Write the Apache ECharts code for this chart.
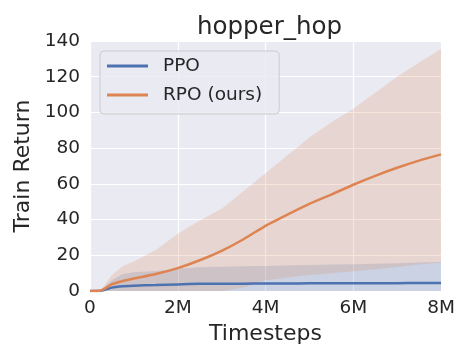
<!DOCTYPE html>
<html>
<head>
<meta charset="utf-8">
<script src="https://cdn.jsdelivr.net/npm/echarts@6/dist/echarts.min.js"></script>
<style>html,body{margin:0;padding:0;background:#fff}#c{width:470px;height:360px}</style>
</head>
<body>
<div id="c"></div>
<script>
// Timesteps in millions
const steps = [0, 0.25, 0.5, 0.75, 1, 1.5, 2, 2.5, 3, 3.5, 4, 4.5, 5, 5.5, 6, 6.5, 7, 7.5, 8];
const ppoMean  = [0, 0.2, 1.9, 2.6, 3.0, 3.3, 3.7, 4.0, 4.1, 4.1, 4.2, 4.2, 4.3, 4.3, 4.4, 4.4, 4.4, 4.5, 4.5];
const ppoUpper = [0, 0.5, 6.0, 9.5, 10.5, 11.2, 12.5, 13.3, 13.6, 13.8, 14.0, 14.3, 14.6, 14.8, 15.0, 15.3, 15.6, 16.0, 16.3];
const ppoLower = [0, 0, 0, 0, 0, 0, 0, 0, 0, 0, 0, 0, 0, 0, 0, 0, 0, 0, 0];
const rpoMean  = [0, 0.3, 3.8, 5.6, 7.0, 9.5, 12.8, 17.2, 22.5, 29, 36.5, 42.8, 48.8, 54, 59.5, 64.5, 69, 73, 76.5];
const rpoUpper = [0, 0.5, 9, 14, 16.5, 23, 32, 39.5, 46, 56, 66, 76, 86, 94.5, 102, 111, 120, 128, 135.5];
const rpoLower = [0, 0, 0, 0, 0, 0, 0, 0, 0, 2, 6, 7.5, 9, 10, 11, 12.2, 13.5, 14.8, 16];
const xTicks = [0, 2, 4, 6, 8];
const yTicks = [0, 20, 40, 60, 80, 100, 120, 140];
const seriesNames = ['PPO', 'RPO (ours)'];

const BLUE = '#4c72b0', ORANGE = '#dd8452', TXT = '#262626';
const FONT = 'DejaVu Sans';
const pair = (ys) => steps.map((x, i) => [x, ys[i]]);

function band(lower, upper, color) {
  return {
    type: 'custom', silent: true, z: 1,
    data: [[steps[0], lower[0]]],
    renderItem: function (params, api) {
      const pts = [];
      for (let i = 0; i < steps.length; i++) pts.push(api.coord([steps[i], upper[i]]));
      for (let i = steps.length - 1; i >= 0; i--) pts.push(api.coord([steps[i], lower[i]]));
      return { type: 'polygon', shape: { points: pts }, style: { fill: color } };
    }
  };
}

const chart = echarts.init(document.getElementById('c'), null, { renderer: 'canvas' });
chart.setOption({
  animation: false,
  backgroundColor: '#ffffff',
  textStyle: { fontFamily: FONT },
  title: {
    text: 'hopper_hop', left: 264.5, textAlign: 'center', top: 10,
    textStyle: { fontFamily: FONT, fontSize: 24.5, fontWeight: 'normal', color: TXT }
  },
  grid: { left: 90, right: 29, top: 41, bottom: 69, show: true, backgroundColor: '#EAEAF2', borderWidth: 0 },
  legend: {
    orient: 'vertical', left: 100, top: 51,
    data: seriesNames.map(n => ({ name: n, icon: 'rect' })),
    itemWidth: 41, itemHeight: 3, itemGap: 7,
    padding: [4, 17, 8, 7],
    backgroundColor: 'rgba(234,234,242,0.8)', borderColor: '#cccccc', borderWidth: 1, borderRadius: 4,
    textStyle: { fontFamily: FONT, fontSize: 18.5, color: TXT, lineHeight: 22, padding: [0, 0, 0, 10] }
  },
  xAxis: {
    type: 'value', min: xTicks[0], max: xTicks[xTicks.length - 1], interval: xTicks[1] - xTicks[0],
    name: 'Timesteps', nameLocation: 'middle', nameGap: 30,
    nameTextStyle: { fontFamily: FONT, fontSize: 22, color: TXT },
    axisLine: { show: false }, axisTick: { show: false },
    axisLabel: { fontFamily: FONT, fontSize: 18.5, color: TXT, margin: 8,
      formatter: v => v === 0 ? '0' : v + 'M' },
    splitLine: { show: true, lineStyle: { color: '#ffffff', width: 1.2 } }
  },
  yAxis: {
    type: 'value', min: yTicks[0], max: yTicks[yTicks.length - 1], interval: yTicks[1] - yTicks[0],
    name: 'Train Return', nameLocation: 'middle', nameGap: 53,
    nameTextStyle: { fontFamily: FONT, fontSize: 22, color: TXT },
    axisLine: { show: false }, axisTick: { show: false },
    axisLabel: { fontFamily: FONT, fontSize: 18.5, color: TXT, margin: 10 },
    splitLine: { show: true, lineStyle: { color: '#ffffff', width: 1.2 } }
  },
  series: [
    band(ppoLower, ppoUpper, 'rgba(76,114,176,0.2)'),
    band(rpoLower, rpoUpper, 'rgba(221,132,82,0.2)'),
    { name: seriesNames[0], type: 'line', data: pair(ppoMean), symbol: 'none', color: BLUE, smooth: 0.2,
      lineStyle: { color: BLUE, width: 2.5 }, z: 3 },
    { name: seriesNames[1], type: 'line', data: pair(rpoMean), symbol: 'none', color: ORANGE, smooth: 0.2,
      lineStyle: { color: ORANGE, width: 2.5 }, z: 3 }
  ]
});
</script>
</body>
</html>
